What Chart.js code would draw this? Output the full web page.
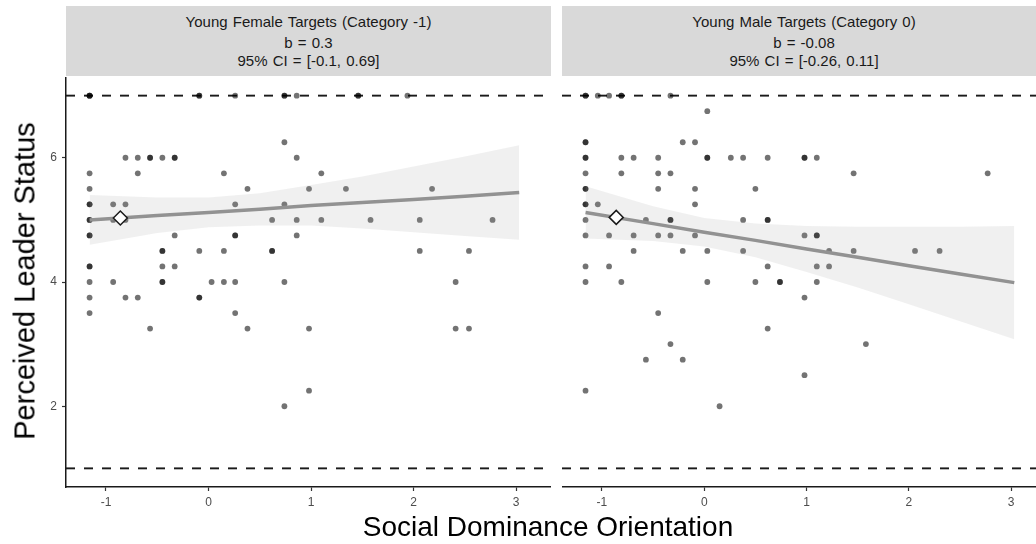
<!DOCTYPE html>
<html lang="en">

<head>
    <meta charset="UTF-8">
    <title>Perceived Leader Status by SDO</title>

    <!-- Chart.js for the two panels -->
    <script src="https://cdn.jsdelivr.net/npm/chart.js"></script>

    <style>
        body {
            margin: 0;
            width: 1036px;
            height: 544px;
            overflow: hidden;
            background: #ffffff;
            font-family: "Liberation Sans", Arial, sans-serif;
            position: relative;
        }

        /* grey facet strips above each panel */
        .strip {
            position: absolute;
            top: 6px;
            height: 70px;
            background-color: #d9d9d9;
            color: #1a1a1a;
            font-size: 15px;
            word-spacing: 1px;
            text-align: center;
        }

        .strip div {
            position: absolute;
            left: 0;
            right: 0;
            line-height: 18px;
        }

        .panel {
            position: absolute;
            top: 77px;
        }

        .axis-title {
            position: absolute;
            color: #000000;
            white-space: nowrap;
        }
    </style>
</head>

<body>

<!-- Facet strips -->
<div class="strip" style="left: 66px; width: 485px;">
    <div style="top: 7px;">Young Female Targets (Category -1)</div>
    <div style="top: 28px;">b = 0.3</div>
    <div style="top: 46px;">95% CI = [-0.1, 0.69]</div>
</div>
<div class="strip" style="left: 562px; width: 484px;">
    <div style="top: 7px;">Young Male Targets (Category 0)</div>
    <div style="top: 28px;">b = -0.08</div>
    <div style="top: 46px;">95% CI = [-0.26, 0.11]</div>
</div>

<!-- Panels -->
<canvas id="femaleChart" class="panel" width="551" height="440" style="left: 0px;"></canvas>
<canvas id="maleChart" class="panel" width="484" height="440" style="left: 562px;"></canvas>

<!-- Axis titles -->
<div class="axis-title" style="font-size: 28px; left: 548px; top: 527px; transform: translate(-50%, -50%);">Social Dominance Orientation</div>
<div class="axis-title" style="font-size: 29px; left: 25px; top: 281px; transform: translate(-50%, -50%) rotate(-90deg);">Perceived Leader Status</div>

<script>
    // ---- data ----
    const sdoTicks = [-1, 0, 1, 2, 3];
    const statusTicks = [2, 4, 6];
    const refLines = [1, 7];   // scale end points, drawn dashed

    // response levels (rows of dots)
    const statusLevels = [7, 6.75, 6.25, 6, 5.75, 5.5, 5.25, 5, 4.75, 4.5, 4.25, 4, 3.75, 3.5, 3.25, 3, 2.75, 2.5, 2.25, 2];

    // SDO scores on each row, repeated values are overlapping (darker) dots
    const femaleSdo = [
        [-1.16, -1.16, -1.16, -0.09, -0.09, 0.26, 0.74, 0.74, 0.86, 1.46, 1.46, 1.94],
        [],
        [0.74],
        [-0.81, -0.69, -0.57, -0.57, -0.45, -0.33, -0.33, 0.86],
        [-1.16, -0.69, 0.15, 1.10],
        [-1.16, 0.38, 0.98, 1.34, 2.18],
        [-1.16, -1.16, -0.93, -0.81, 0.26, 0.74],
        [-1.16, -1.16, -0.93, -0.81, 0.62, 0.86, 1.10, 1.58, 2.06, 2.77],
        [-1.16, -1.16, -0.33, 0.26, 0.26, 0.86],
        [-0.45, -0.45, -0.09, 0.15, 0.62, 0.62, 2.06, 2.54],
        [-1.16, -1.16, -0.45, -0.33],
        [-1.16, -0.93, -0.45, -0.45, 0.03, 0.15, 0.26, 0.74, 2.41],
        [-1.16, -0.81, -0.69, -0.09, -0.09],
        [-1.16, 0.26],
        [-0.57, 0.38, 0.98, 2.41, 2.54],
        [],
        [],
        [],
        [0.98],
        [0.74]
    ];

    const maleSdo = [
        [-1.16, -1.16, -1.04, -0.93, -0.81, -0.81, -0.33],
        [0.03],
        [-1.16, -1.16, -0.21, -0.09],
        [-1.16, -1.16, -0.81, -0.69, -0.45, 0.03, 0.03, 0.26, 0.38, 0.62, 0.98, 0.98, 1.10],
        [-1.16, -0.81, -0.45, -0.33, 1.46, 2.77],
        [-1.16, -1.16, -0.45, -0.09, 0.50],
        [-1.16, -1.16, -1.04, -0.09],
        [-1.16, -0.57, -0.33, -0.33, 0.38, 0.62, 0.62],
        [-1.16, -0.93, -0.69, -0.45, -0.33, -0.09, 0.98, 1.10, 1.10],
        [-0.69, -0.21, 0.03, 0.38, 1.22, 1.46, 2.06, 2.30],
        [-1.16, -0.93, 0.62, 1.10, 1.22],
        [-1.16, -0.81, 0.03, 0.50, 0.74, 0.74, 1.10],
        [0.98],
        [-0.45],
        [0.62],
        [-0.33, 1.58],
        [-0.57, -0.21],
        [0.98],
        [-1.16],
        [0.15]
    ];

    // fitted line and 95% band, read at these SDO values
    const fitSdo = [-1.16, -0.5, 0, 0.5, 1, 1.5, 2, 2.5, 3.03];
    const femaleFit = [5.00, 5.07, 5.12, 5.17, 5.23, 5.28, 5.33, 5.38, 5.44];
    const femaleUpper = [5.40, 5.36, 5.36, 5.43, 5.56, 5.70, 5.86, 6.02, 6.20];
    const femaleLower = [4.60, 4.79, 4.88, 4.91, 4.91, 4.86, 4.80, 4.74, 4.68];
    const maleFit = [5.12, 4.94, 4.80, 4.67, 4.53, 4.40, 4.26, 4.13, 3.99];
    const maleUpper = [5.54, 5.22, 5.03, 4.94, 4.90, 4.89, 4.89, 4.89, 4.90];
    const maleLower = [4.70, 4.66, 4.57, 4.40, 4.16, 3.91, 3.64, 3.37, 3.08];

    // open diamond markers
    const markerSdo = -0.86;
    const femaleMarker = 5.03;
    const maleMarker = 5.04;

    Chart.defaults.font.family = '"Liberation Sans", Arial, sans-serif';

    // turn the row lists into {x, y} points
    function toPoints(rows) {
        const pts = [];
        rows.forEach((row, i) => {
            row.forEach(x => pts.push({ x: x, y: statusLevels[i] }));
        });
        return pts;
    }

    function toLine(xs, ys) {
        return xs.map((x, i) => ({ x: x, y: ys[i] }));
    }

    function createPanel(canvasId, rows, fit, upper, lower, marker, showY) {
        const ctx = document.getElementById(canvasId).getContext('2d');
        const xMin = -1.39, xMax = 3.34;

        const refSets = refLines.map(v => ({
            data: [{ x: xMin, y: v }, { x: xMax, y: v }],
            showLine: true,
            borderColor: '#1a1a1a',
            borderWidth: 1.9,
            borderDash: [9, 9],
            pointRadius: 0,
            fill: false,
            order: 5
        }));

        new Chart(ctx, {
            type: 'scatter',
            data: {
                datasets: [
                    {
                        // diamond
                        data: [{ x: markerSdo, y: marker }],
                        pointStyle: 'rectRot',
                        pointRadius: 7,
                        backgroundColor: '#ffffff',
                        borderColor: '#1a1a1a',
                        borderWidth: 1.5,
                        order: 0
                    },
                    {
                        // regression line
                        data: toLine(fitSdo, fit),
                        showLine: true,
                        borderColor: '#929292',
                        borderWidth: 3.5,
                        pointRadius: 0,
                        fill: false,
                        order: 1
                    },
                    {
                        // band upper edge, filled down to the next dataset
                        data: toLine(fitSdo, upper),
                        showLine: true,
                        borderWidth: 0,
                        borderColor: 'rgba(0,0,0,0)',
                        backgroundColor: 'rgba(153,153,153,0.15)',
                        pointRadius: 0,
                        fill: '+1',
                        order: 2
                    },
                    {
                        data: toLine(fitSdo, lower),
                        showLine: true,
                        borderWidth: 0,
                        borderColor: 'rgba(0,0,0,0)',
                        pointRadius: 0,
                        fill: false,
                        order: 3
                    },
                    {
                        // raw responses
                        data: toPoints(rows),
                        pointRadius: 2.9,
                        pointBorderWidth: 0,
                        backgroundColor: 'rgba(0,0,0,0.55)',
                        borderColor: 'rgba(0,0,0,0)',
                        order: 4
                    },
                    ...refSets
                ]
            },
            options: {
                responsive: false,
                animation: false,
                layout: { padding: 0, autoPadding: false },
                plugins: {
                    legend: { display: false },
                    tooltip: { enabled: false }
                },
                scales: {
                    x: {
                        type: 'linear',
                        min: xMin,
                        max: xMax,
                        afterBuildTicks: s => { s.ticks = sdoTicks.map(v => ({ value: v })); },
                        afterFit: s => { s.height = 30; s.paddingLeft = 0; s.paddingRight = 0; },
                        grid: { display: true, drawOnChartArea: false, tickLength: 4, color: '#333333', tickWidth: 1.2 },
                        border: { display: true, color: '#1a1a1a', width: 1.5 },
                        ticks: { color: '#4d4d4d', font: { size: 12 }, padding: 4, maxRotation: 0 }
                    },
                    y: {
                        type: 'linear',
                        display: showY,
                        min: 0.7,
                        max: 7.3,
                        afterBuildTicks: s => { s.ticks = statusTicks.map(v => ({ value: v })); },
                        afterFit: s => {
                            s.width = showY ? 66 : 0;
                            s.paddingTop = 0;
                            s.paddingBottom = 0;
                        },
                        grid: { display: true, drawOnChartArea: false, tickLength: 4, color: '#333333', tickWidth: 1.2 },
                        border: { display: true, color: '#1a1a1a', width: 1.5 },
                        ticks: { color: '#4d4d4d', font: { size: 12 }, padding: 5 }
                    }
                }
            }
        });
    }

    createPanel('femaleChart', femaleSdo, femaleFit, femaleUpper, femaleLower, femaleMarker, true);
    createPanel('maleChart', maleSdo, maleFit, maleUpper, maleLower, maleMarker, false);
</script>
</body>
</html>
